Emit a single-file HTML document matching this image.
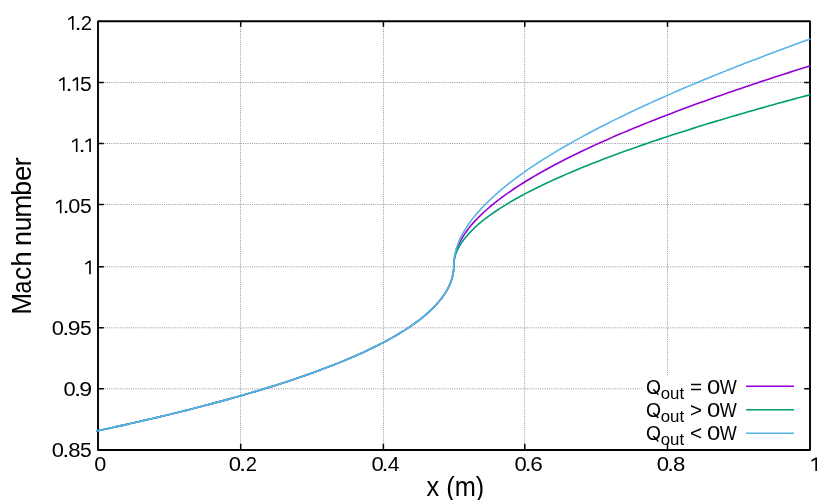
<!DOCTYPE html>
<html><head><meta charset="utf-8"><title>Mach number</title>
<style>
html,body{margin:0;padding:0;background:#fff;}
body{width:830px;height:500px;overflow:hidden;position:relative;font-family:"Liberation Sans",sans-serif;}
</style></head><body>
<svg width="830" height="500" viewBox="0 0 830 500" style="display:block;position:absolute;left:0;top:0;will-change:transform">
<g stroke="#9898a0" stroke-width="1" stroke-dasharray="1 1.2" fill="none">
<path d="M98.0,82.5H810.0"/>
<path d="M98.0,143.5H810.0"/>
<path d="M98.0,204.5H810.0"/>
<path d="M98.0,266.8H810.0"/>
<path d="M98.0,327.8H810.0"/>
<path d="M98.0,388.8H810.0"/>
<path d="M240.5,450.0V21.2"/>
<path d="M383.5,450.0V21.2"/>
<path d="M524.6,450.0V21.2"/>
<path d="M667.5,450.0V21.2"/>
</g>
<rect x="643" y="375.2" width="166" height="73" fill="#fff"/>
<g stroke="#000" stroke-width="1.5" fill="none">
<path d="M98.0,82.5h5.8M810.0,82.5h-5.8"/>
<path d="M98.0,143.5h5.8M810.0,143.5h-5.8"/>
<path d="M98.0,204.5h5.8M810.0,204.5h-5.8"/>
<path d="M98.0,266.8h5.8M810.0,266.8h-5.8"/>
<path d="M98.0,327.8h5.8M810.0,327.8h-5.8"/>
<path d="M98.0,388.8h5.8M810.0,388.8h-5.8"/>
<path d="M240.7,450.0v-6.2M240.7,21.2v5.6"/>
<path d="M383.4,450.0v-6.2M383.4,21.2v5.6"/>
<path d="M524.8,450.0v-6.2M524.8,21.2v5.6"/>
<path d="M667.5,450.0v-6.2M667.5,21.2v5.6"/>
</g>
<rect x="98.0" y="21.2" width="712.0" height="428.8" fill="none" stroke="#000" stroke-width="1.9" stroke-linejoin="round"/>
<g fill="none" stroke-width="1.6" stroke-linejoin="round" stroke-linecap="round">
<path stroke="#9400d3" d="M96.69,430.91 L97.90,430.65 L102.54,429.66 L107.19,428.67 L111.83,427.66 L116.47,426.65 L121.11,425.63 L125.76,424.60 L130.40,423.56 L135.04,422.51 L139.69,421.45 L144.33,420.39 L148.97,419.31 L153.61,418.23 L158.26,417.14 L162.90,416.03 L167.54,414.92 L172.19,413.79 L176.83,412.66 L181.47,411.51 L186.11,410.35 L190.76,409.18 L195.40,408.00 L200.04,406.80 L204.69,405.60 L209.33,404.38 L213.97,403.14 L218.61,401.89 L223.26,400.63 L227.90,399.36 L232.54,398.07 L237.18,396.76 L241.83,395.44 L246.47,394.10 L251.11,392.74 L255.76,391.37 L260.40,389.97 L265.04,388.56 L269.68,387.13 L274.33,385.68 L278.97,384.20 L283.61,382.71 L288.26,381.19 L292.90,379.65 L297.54,378.08 L302.18,376.49 L306.83,374.87 L311.47,373.22 L316.11,371.54 L320.76,369.82 L325.40,368.08 L330.04,366.30 L334.68,364.48 L339.33,362.62 L343.97,360.73 L348.61,358.78 L353.26,356.79 L357.90,354.75 L362.54,352.65 L367.18,350.50 L371.83,348.28 L376.47,346.00 L381.11,343.63 L385.76,341.19 L390.40,338.65 L395.04,336.01 L399.68,333.26 L404.33,330.38 L408.97,327.35 L413.61,324.16 L418.26,320.76 L424.22,316.03 L429.18,311.69 L433.32,307.72 L436.76,304.09 L439.62,300.76 L442.01,297.71 L443.99,294.93 L445.64,292.38 L447.02,290.05 L448.16,287.92 L449.12,285.97 L449.91,284.19 L450.57,282.56 L451.12,281.08 L451.58,279.72 L451.96,278.48 L452.27,277.35 L452.54,276.31 L452.76,275.37 L452.94,274.51 L453.09,273.72 L453.22,273.00 L453.33,272.34 L453.41,271.74 L453.49,271.20 L453.55,270.70 L453.60,270.24 L453.64,269.83 L453.68,269.45 L453.70,269.10 L453.73,268.78 L453.75,268.50 L453.77,268.23 L453.78,267.99 L453.79,267.77 L453.80,267.57 L453.81,267.39 L453.82,267.22 L453.82,267.07 L453.83,266.93 L453.83,266.81 L453.83,266.69 L453.84,266.58 L453.84,266.49 L453.84,266.40 L453.84,266.32 L453.84,266.25 L453.84,266.18 L453.85,266.12 L453.85,266.06 L453.85,266.01 L453.85,265.97 L453.85,265.93 L453.85,265.89 L453.85,265.85 L453.85,265.82 L453.85,265.79 L453.85,265.76 L453.85,265.74 L453.85,265.24 L453.85,265.21 L453.85,265.18 L453.85,265.16 L453.85,265.12 L453.85,265.09 L453.85,265.05 L453.85,265.01 L453.85,264.96 L453.85,264.91 L453.85,264.86 L453.86,264.80 L453.86,264.73 L453.86,264.66 L453.86,264.58 L453.86,264.49 L453.86,264.40 L453.87,264.29 L453.87,264.18 L453.87,264.05 L453.88,263.92 L453.88,263.77 L453.89,263.60 L453.90,263.42 L453.91,263.22 L453.92,263.00 L453.93,262.76 L453.95,262.50 L453.97,262.21 L454.00,261.90 L454.02,261.55 L454.06,261.17 L454.10,260.76 L454.15,260.30 L454.21,259.80 L454.29,259.25 L454.37,258.65 L454.48,257.99 L454.61,257.27 L454.76,256.48 L454.94,255.60 L455.16,254.65 L455.43,253.60 L455.74,252.45 L456.12,251.18 L456.58,249.79 L457.13,248.27 L457.79,246.59 L458.58,244.75 L459.54,242.73 L460.68,240.51 L462.06,238.07 L463.71,235.38 L465.69,232.42 L468.08,229.17 L470.94,225.59 L474.38,221.64 L478.52,217.30 L483.48,212.51 L489.44,207.23 L493.50,203.87 L497.56,200.66 L501.61,197.59 L505.67,194.64 L509.72,191.79 L513.78,189.03 L517.83,186.36 L521.89,183.76 L525.94,181.23 L530.00,178.76 L534.05,176.36 L538.11,174.00 L542.16,171.70 L546.22,169.44 L550.27,167.23 L554.33,165.05 L558.38,162.92 L562.44,160.82 L566.49,158.75 L570.55,156.72 L574.60,154.72 L578.66,152.75 L582.71,150.80 L586.77,148.88 L590.82,146.99 L594.88,145.12 L598.93,143.27 L602.99,141.45 L607.04,139.65 L611.10,137.86 L615.15,136.10 L619.21,134.36 L623.26,132.63 L627.32,130.92 L631.37,129.23 L635.43,127.55 L639.48,125.90 L643.54,124.25 L647.59,122.62 L651.65,121.01 L655.71,119.40 L659.76,117.82 L663.82,116.24 L667.87,114.68 L671.93,113.13 L675.98,111.59 L680.04,110.07 L684.09,108.55 L688.15,107.05 L692.20,105.56 L696.26,104.07 L700.31,102.60 L704.37,101.14 L708.42,99.69 L712.48,98.24 L716.53,96.81 L720.59,95.38 L724.64,93.97 L728.70,92.56 L732.75,91.16 L736.81,89.77 L740.86,88.39 L744.92,87.02 L748.97,85.65 L753.03,84.29 L757.08,82.94 L761.14,81.60 L765.19,80.26 L769.25,78.93 L773.30,77.61 L777.36,76.29 L781.41,74.98 L785.47,73.68 L789.52,72.38 L793.58,71.09 L797.63,69.81 L801.69,68.53 L805.74,67.26 L809.80,65.99"/>
<path stroke="#009e73" d="M96.69,430.91 L97.90,430.65 L102.54,429.66 L107.19,428.67 L111.83,427.66 L116.47,426.65 L121.11,425.63 L125.76,424.60 L130.40,423.56 L135.04,422.51 L139.69,421.45 L144.33,420.39 L148.97,419.31 L153.61,418.23 L158.26,417.14 L162.90,416.03 L167.54,414.92 L172.19,413.79 L176.83,412.66 L181.47,411.51 L186.11,410.35 L190.76,409.18 L195.40,408.00 L200.04,406.80 L204.69,405.60 L209.33,404.38 L213.97,403.14 L218.61,401.89 L223.26,400.63 L227.90,399.36 L232.54,398.07 L237.18,396.76 L241.83,395.44 L246.47,394.10 L251.11,392.74 L255.76,391.37 L260.40,389.97 L265.04,388.56 L269.68,387.13 L274.33,385.68 L278.97,384.20 L283.61,382.71 L288.26,381.19 L292.90,379.65 L297.54,378.08 L302.18,376.49 L306.83,374.87 L311.47,373.22 L316.11,371.54 L320.76,369.82 L325.40,368.08 L330.04,366.30 L334.68,364.48 L339.33,362.62 L343.97,360.73 L348.61,358.78 L353.26,356.79 L357.90,354.75 L362.54,352.65 L367.18,350.50 L371.83,348.28 L376.47,346.00 L381.11,343.63 L385.76,341.19 L390.40,338.65 L395.04,336.01 L399.68,333.26 L404.33,330.38 L408.97,327.35 L413.61,324.16 L418.26,320.76 L424.22,316.03 L429.18,311.69 L433.32,307.72 L436.76,304.09 L439.62,300.76 L442.01,297.71 L443.99,294.93 L445.64,292.38 L447.02,290.05 L448.16,287.92 L449.12,285.97 L449.91,284.19 L450.57,282.56 L451.12,281.08 L451.58,279.72 L451.96,278.48 L452.27,277.35 L452.54,276.31 L452.76,275.37 L452.94,274.51 L453.09,273.72 L453.22,273.00 L453.33,272.34 L453.41,271.74 L453.49,271.20 L453.55,270.70 L453.60,270.24 L453.64,269.83 L453.68,269.45 L453.70,269.10 L453.73,268.78 L453.75,268.50 L453.77,268.23 L453.78,267.99 L453.79,267.77 L453.80,267.57 L453.81,267.39 L453.82,267.22 L453.82,267.07 L453.83,266.93 L453.83,266.81 L453.83,266.69 L453.84,266.58 L453.84,266.49 L453.84,266.40 L453.84,266.32 L453.84,266.25 L453.84,266.18 L453.85,266.12 L453.85,266.06 L453.85,266.01 L453.85,265.97 L453.85,265.93 L453.85,265.89 L453.85,265.85 L453.85,265.82 L453.85,265.79 L453.85,265.76 L453.85,265.74 L453.85,265.27 L453.85,265.25 L453.85,265.23 L453.85,265.20 L453.85,265.18 L453.85,265.15 L453.85,265.11 L453.85,265.08 L453.85,265.04 L453.85,265.00 L453.85,264.95 L453.86,264.90 L453.86,264.84 L453.86,264.78 L453.86,264.71 L453.86,264.64 L453.86,264.55 L453.87,264.47 L453.87,264.37 L453.87,264.26 L453.88,264.14 L453.88,264.01 L453.89,263.87 L453.90,263.72 L453.91,263.55 L453.92,263.36 L453.93,263.15 L453.95,262.93 L453.97,262.68 L454.00,262.41 L454.02,262.12 L454.06,261.79 L454.10,261.44 L454.15,261.05 L454.21,260.62 L454.29,260.15 L454.37,259.64 L454.48,259.07 L454.61,258.45 L454.76,257.77 L454.94,257.03 L455.16,256.21 L455.43,255.31 L455.74,254.32 L456.12,253.24 L456.58,252.05 L457.13,250.75 L457.79,249.31 L458.58,247.74 L459.54,246.01 L460.68,244.11 L462.06,242.01 L463.71,239.71 L465.69,237.18 L468.08,234.40 L470.94,231.34 L474.38,227.96 L478.52,224.24 L483.48,220.14 L489.44,215.62 L493.50,212.74 L497.56,210.00 L501.61,207.37 L505.67,204.85 L509.72,202.41 L513.78,200.05 L517.83,197.76 L521.89,195.54 L525.94,193.37 L530.00,191.26 L534.05,189.20 L538.11,187.19 L542.16,185.22 L546.22,183.28 L550.27,181.39 L554.33,179.53 L558.38,177.70 L562.44,175.91 L566.49,174.14 L570.55,172.40 L574.60,170.69 L578.66,169.00 L582.71,167.34 L586.77,165.69 L590.82,164.07 L594.88,162.47 L598.93,160.90 L602.99,159.33 L607.04,157.79 L611.10,156.27 L615.15,154.76 L619.21,153.27 L623.26,151.79 L627.32,150.33 L631.37,148.88 L635.43,147.45 L639.48,146.03 L643.54,144.62 L647.59,143.23 L651.65,141.84 L655.71,140.47 L659.76,139.12 L663.82,137.77 L667.87,136.43 L671.93,135.11 L675.98,133.79 L680.04,132.49 L684.09,131.19 L688.15,129.90 L692.20,128.63 L696.26,127.36 L700.31,126.10 L704.37,124.85 L708.42,123.60 L712.48,122.37 L716.53,121.14 L720.59,119.93 L724.64,118.71 L728.70,117.51 L732.75,116.31 L736.81,115.12 L740.86,113.94 L744.92,112.77 L748.97,111.60 L753.03,110.44 L757.08,109.28 L761.14,108.13 L765.19,106.99 L769.25,105.85 L773.30,104.72 L777.36,103.59 L781.41,102.47 L785.47,101.36 L789.52,100.25 L793.58,99.14 L797.63,98.04 L801.69,96.95 L805.74,95.86 L809.80,94.78"/>
<path stroke="#56b4e9" d="M96.69,430.91 L97.90,430.65 L102.54,429.66 L107.19,428.67 L111.83,427.66 L116.47,426.65 L121.11,425.63 L125.76,424.60 L130.40,423.56 L135.04,422.51 L139.69,421.45 L144.33,420.39 L148.97,419.31 L153.61,418.23 L158.26,417.14 L162.90,416.03 L167.54,414.92 L172.19,413.79 L176.83,412.66 L181.47,411.51 L186.11,410.35 L190.76,409.18 L195.40,408.00 L200.04,406.80 L204.69,405.60 L209.33,404.38 L213.97,403.14 L218.61,401.89 L223.26,400.63 L227.90,399.36 L232.54,398.07 L237.18,396.76 L241.83,395.44 L246.47,394.10 L251.11,392.74 L255.76,391.37 L260.40,389.97 L265.04,388.56 L269.68,387.13 L274.33,385.68 L278.97,384.20 L283.61,382.71 L288.26,381.19 L292.90,379.65 L297.54,378.08 L302.18,376.49 L306.83,374.87 L311.47,373.22 L316.11,371.54 L320.76,369.82 L325.40,368.08 L330.04,366.30 L334.68,364.48 L339.33,362.62 L343.97,360.73 L348.61,358.78 L353.26,356.79 L357.90,354.75 L362.54,352.65 L367.18,350.50 L371.83,348.28 L376.47,346.00 L381.11,343.63 L385.76,341.19 L390.40,338.65 L395.04,336.01 L399.68,333.26 L404.33,330.38 L408.97,327.35 L413.61,324.16 L418.26,320.76 L424.22,316.03 L429.18,311.69 L433.32,307.72 L436.76,304.09 L439.62,300.76 L442.01,297.71 L443.99,294.93 L445.64,292.38 L447.02,290.05 L448.16,287.92 L449.12,285.97 L449.91,284.19 L450.57,282.56 L451.12,281.08 L451.58,279.72 L451.96,278.48 L452.27,277.35 L452.54,276.31 L452.76,275.37 L452.94,274.51 L453.09,273.72 L453.22,273.00 L453.33,272.34 L453.41,271.74 L453.49,271.20 L453.55,270.70 L453.60,270.24 L453.64,269.83 L453.68,269.45 L453.70,269.10 L453.73,268.78 L453.75,268.50 L453.77,268.23 L453.78,267.99 L453.79,267.77 L453.80,267.57 L453.81,267.39 L453.82,267.22 L453.82,267.07 L453.83,266.93 L453.83,266.81 L453.83,266.69 L453.84,266.58 L453.84,266.49 L453.84,266.40 L453.84,266.32 L453.84,266.25 L453.84,266.18 L453.85,266.12 L453.85,266.06 L453.85,266.01 L453.85,265.97 L453.85,265.93 L453.85,265.89 L453.85,265.85 L453.85,265.82 L453.85,265.79 L453.85,265.76 L453.85,265.74 L453.85,265.21 L453.85,265.18 L453.85,265.15 L453.85,265.12 L453.85,265.08 L453.85,265.05 L453.85,265.00 L453.85,264.96 L453.85,264.91 L453.85,264.85 L453.85,264.79 L453.86,264.72 L453.86,264.65 L453.86,264.57 L453.86,264.48 L453.86,264.38 L453.86,264.28 L453.87,264.16 L453.87,264.03 L453.87,263.90 L453.88,263.74 L453.88,263.57 L453.89,263.39 L453.90,263.19 L453.91,262.97 L453.92,262.73 L453.93,262.46 L453.95,262.17 L453.97,261.85 L454.00,261.50 L454.02,261.12 L454.06,260.69 L454.10,260.23 L454.15,259.73 L454.21,259.17 L454.29,258.56 L454.37,257.89 L454.48,257.16 L454.61,256.35 L454.76,255.47 L454.94,254.50 L455.16,253.43 L455.43,252.26 L455.74,250.98 L456.12,249.57 L456.58,248.02 L457.13,246.32 L457.79,244.45 L458.58,242.40 L459.54,240.14 L460.68,237.66 L462.06,234.93 L463.71,231.92 L465.69,228.61 L468.08,224.97 L470.94,220.95 L474.38,216.52 L478.52,211.64 L483.48,206.26 L489.44,200.31 L493.50,196.52 L497.56,192.91 L501.61,189.45 L505.67,186.11 L509.72,182.89 L513.78,179.78 L517.83,176.75 L521.89,173.81 L525.94,170.95 L530.00,168.16 L534.05,165.43 L538.11,162.76 L542.16,160.14 L546.22,157.58 L550.27,155.07 L554.33,152.60 L558.38,150.17 L562.44,147.79 L566.49,145.44 L570.55,143.13 L574.60,140.85 L578.66,138.61 L582.71,136.39 L586.77,134.21 L590.82,132.05 L594.88,129.92 L598.93,127.81 L602.99,125.73 L607.04,123.68 L611.10,121.64 L615.15,119.63 L619.21,117.64 L623.26,115.67 L627.32,113.71 L631.37,111.78 L635.43,109.87 L639.48,107.97 L643.54,106.09 L647.59,104.22 L651.65,102.38 L655.71,100.54 L659.76,98.72 L663.82,96.92 L667.87,95.13 L671.93,93.36 L675.98,91.59 L680.04,89.84 L684.09,88.11 L688.15,86.38 L692.20,84.67 L696.26,82.97 L700.31,81.28 L704.37,79.60 L708.42,77.93 L712.48,76.28 L716.53,74.63 L720.59,72.99 L724.64,71.37 L728.70,69.75 L732.75,68.14 L736.81,66.54 L740.86,64.95 L744.92,63.37 L748.97,61.80 L753.03,60.24 L757.08,58.68 L761.14,57.13 L765.19,55.59 L769.25,54.06 L773.30,52.54 L777.36,51.02 L781.41,49.51 L785.47,48.01 L789.52,46.52 L793.58,45.03 L797.63,43.55 L801.69,42.07 L805.74,40.61 L809.80,39.14"/>
</g>
<path d="M746,386.2H794" stroke="#9400d3" stroke-width="1.6" fill="none"/>
<path d="M746,409.7H794" stroke="#009e73" stroke-width="1.6" fill="none"/>
<path d="M746,433.2H794" stroke="#56b4e9" stroke-width="1.6" fill="none"/>
<g font-family="'Liberation Sans', sans-serif" fill="#000">
<path transform="translate(67.90,29.70) scale(0.9828,1)" d="M5.8,0V-13.6H4.3L0,-10.8L0.55,-9.35L4.15,-11.65V0Z"/>
<text transform="translate(74.60,29.70) scale(1.3091,1)" font-size="19.5">.</text>
<text transform="translate(80.80,29.70) scale(1.0472,1)" font-size="19.5">2</text>
<path transform="translate(58.90,90.80) scale(0.9828,1)" d="M5.8,0V-13.6H4.3L0,-10.8L0.55,-9.35L4.15,-11.65V0Z"/>
<text transform="translate(65.60,90.80) scale(1.3091,1)" font-size="19.5">.</text>
<path transform="translate(72.40,90.80) scale(0.9828,1)" d="M5.8,0V-13.6H4.3L0,-10.8L0.55,-9.35L4.15,-11.65V0Z"/>
<text transform="translate(80.10,90.80) scale(1.0800,1)" font-size="19.5">5</text>
<path transform="translate(71.80,152.00) scale(0.9828,1)" d="M5.8,0V-13.6H4.3L0,-10.8L0.55,-9.35L4.15,-11.65V0Z"/>
<text transform="translate(78.50,152.00) scale(1.3091,1)" font-size="19.5">.</text>
<path transform="translate(85.20,152.00) scale(0.9828,1)" d="M5.8,0V-13.6H4.3L0,-10.8L0.55,-9.35L4.15,-11.65V0Z"/>
<path transform="translate(55.80,213.30) scale(0.9828,1)" d="M5.8,0V-13.6H4.3L0,-10.8L0.55,-9.35L4.15,-11.65V0Z"/>
<text transform="translate(62.50,213.30) scale(1.3091,1)" font-size="19.5">.</text>
<text transform="translate(68.17,213.30) scale(1.1127,1)" font-size="19.5">0</text>
<text transform="translate(80.10,213.30) scale(1.0800,1)" font-size="19.5">5</text>
<path transform="translate(85.00,274.20) scale(1.0000,1)" d="M5.8,0V-13.6H4.3L0,-10.8L0.55,-9.35L4.15,-11.65V0Z"/>
<text transform="translate(51.86,335.40) scale(1.1236,1)" font-size="19.5">0</text>
<text transform="translate(62.20,335.40) scale(1.3091,1)" font-size="19.5">.</text>
<text transform="translate(67.82,335.40) scale(1.1774,1)" font-size="19.5">9</text>
<text transform="translate(80.10,335.40) scale(1.0800,1)" font-size="19.5">5</text>
<text transform="translate(63.46,396.40) scale(1.1236,1)" font-size="19.5">0</text>
<text transform="translate(74.00,396.40) scale(1.3091,1)" font-size="19.5">.</text>
<text transform="translate(79.31,396.40) scale(1.1887,1)" font-size="19.5">9</text>
<text transform="translate(51.86,457.40) scale(1.1236,1)" font-size="19.5">0</text>
<text transform="translate(62.20,457.40) scale(1.3091,1)" font-size="19.5">.</text>
<text transform="translate(68.15,457.40) scale(1.1345,1)" font-size="19.5">8</text>
<text transform="translate(80.10,457.40) scale(1.0800,1)" font-size="19.5">5</text>
<text transform="translate(94.37,471.10) scale(1.1127,1)" font-size="19.5">0</text>
<text transform="translate(228.75,471.10) scale(1.1345,1)" font-size="19.5">0</text>
<text transform="translate(238.90,471.10) scale(1.3091,1)" font-size="19.5">.</text>
<text transform="translate(245.86,471.10) scale(1.0415,1)" font-size="19.5">2</text>
<text transform="translate(371.40,471.10) scale(1.1345,1)" font-size="19.5">0</text>
<text transform="translate(381.55,471.10) scale(1.3091,1)" font-size="19.5">.</text>
<text transform="translate(387.66,471.10) scale(1.0831,1)" font-size="19.5">4</text>
<text transform="translate(514.45,471.10) scale(1.1345,1)" font-size="19.5">0</text>
<text transform="translate(524.60,471.10) scale(1.3091,1)" font-size="19.5">.</text>
<text transform="translate(530.34,471.10) scale(1.1556,1)" font-size="19.5">6</text>
<text transform="translate(656.80,471.10) scale(1.1345,1)" font-size="19.5">0</text>
<text transform="translate(666.95,471.10) scale(1.3091,1)" font-size="19.5">.</text>
<text transform="translate(673.05,471.10) scale(1.1345,1)" font-size="19.5">8</text>
<path transform="translate(811.20,471.10) scale(1.0000,1)" d="M5.8,0V-13.6H4.3L0,-10.8L0.55,-9.35L4.15,-11.65V0Z"/>
<text transform="translate(646.01,393.50) scale(0.9873,1)" font-size="19.5">O</text>
<text transform="translate(660.72,398.50) scale(1.0195,1)" font-size="16.5">out</text>
<text transform="translate(689.94,393.50) scale(1.0632,1)" font-size="19.5">=</text>
<text transform="translate(706.88,393.50) scale(1.2218,1)" font-size="19.5">0</text>
<text transform="translate(719.85,393.50) scale(0.9248,1)" font-size="19.5">W</text>
<text transform="translate(646.01,416.90) scale(0.9873,1)" font-size="19.5">O</text>
<text transform="translate(660.72,421.90) scale(1.0195,1)" font-size="16.5">out</text>
<text transform="translate(689.94,416.90) scale(1.0632,1)" font-size="19.5">&gt;</text>
<text transform="translate(706.88,416.90) scale(1.2218,1)" font-size="19.5">0</text>
<text transform="translate(719.85,416.90) scale(0.9248,1)" font-size="19.5">W</text>
<text transform="translate(646.01,440.30) scale(0.9873,1)" font-size="19.5">O</text>
<text transform="translate(660.72,445.30) scale(1.0195,1)" font-size="16.5">out</text>
<text transform="translate(689.94,440.30) scale(1.0632,1)" font-size="19.5">&lt;</text>
<text transform="translate(706.88,440.30) scale(1.2218,1)" font-size="19.5">0</text>
<text transform="translate(719.85,440.30) scale(0.9248,1)" font-size="19.5">W</text>
<text transform="translate(426.49,495.80) scale(0.9387,1)" font-size="27">x (m)</text>
<path d="M653.30,389.30L658.40,394.70" stroke="#000" stroke-width="1.5" fill="none"/>
<path d="M653.30,412.70L658.40,418.10" stroke="#000" stroke-width="1.5" fill="none"/>
<path d="M653.30,436.10L658.40,441.50" stroke="#000" stroke-width="1.5" fill="none"/>
<text transform="translate(31,314.42) rotate(-90) scale(0.9792,1.03)" font-size="26.5">M</text>
<text transform="translate(31,293.52) rotate(-90) scale(0.8741,1.03)" font-size="26.5">a</text>
<text transform="translate(31,279.84) rotate(-90) scale(0.9794,1.03)" font-size="26.5">c</text>
<text transform="translate(31,266.74) rotate(-90) scale(1.0567,1.03)" font-size="26.5">h</text>
<text transform="translate(31,245.96) rotate(-90) scale(1.0119,1.03)" font-size="26.5">n</text>
<text transform="translate(31,231.25) rotate(-90) scale(0.9882,1.03)" font-size="26.5">u</text>
<text transform="translate(31,217.82) rotate(-90) scale(1.0486,1.03)" font-size="26.5">m</text>
<text transform="translate(31,195.68) rotate(-90) scale(1.0083,1.03)" font-size="26.5">b</text>
<text transform="translate(31,180.92) rotate(-90) scale(1.0459,1.03)" font-size="26.5">e</text>
<text transform="translate(31,166.49) rotate(-90) scale(1.0308,1.03)" font-size="26.5">r</text>
</g>
</svg>
</body></html>
